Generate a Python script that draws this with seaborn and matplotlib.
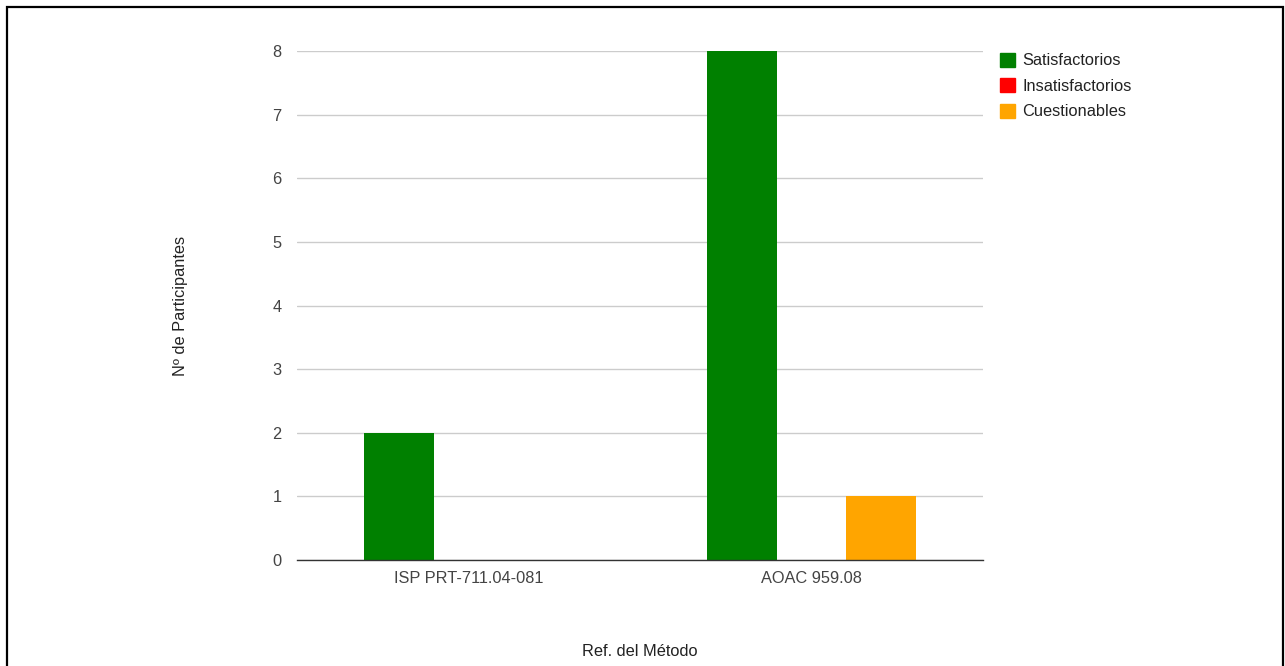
import pandas as pd
import seaborn as sns
import matplotlib.pyplot as plt
from matplotlib.patches import Rectangle, Patch

methods = ["ISP PRT-711.04-081", "AOAC 959.08"]
series = ["Satisfactorios", "Insatisfactorios", "Cuestionables"]
satisfactorios = [2, 8]
insatisfactorios = [0, 0]
cuestionables = [0, 1]
colors = ["#008000", "#ff0000", "#ffa500"]

df = pd.DataFrame({
    "metodo": methods * 3,
    "serie": [s for s in series for _ in methods],
    "n": satisfactorios + insatisfactorios + cuestionables,
})

sns.set_style("white")
plt.rcParams["font.family"] = ["Liberation Sans", "DejaVu Sans"]
fs = 11.8

fig = plt.figure(figsize=(12.85, 6.66), dpi=100)
ax = fig.add_axes([297 / 1285, 1 - 560 / 666, 686 / 1285, 509 / 666])

sns.barplot(data=df, x="metodo", y="n", hue="serie", hue_order=series,
            palette=colors, width=0.61, saturation=1, ax=ax, legend=False,
            linewidth=0)

ax.set_ylim(0, 8)
ax.set_xlim(-0.5, 1.5)
ax.set_yticks(range(0, 9))
ax.grid(axis="y", color="#cccccc", linewidth=1)
ax.set_axisbelow(True)
for s in ["top", "right", "left"]:
    ax.spines[s].set_visible(False)
ax.spines["bottom"].set_color("#333333")
ax.spines["bottom"].set_linewidth(1)
ax.tick_params(axis="both", length=0, labelsize=fs, colors="#444444")
ax.tick_params(axis="y", pad=11)
ax.tick_params(axis="x", pad=8)
ax.set_xlabel("Ref. del Método", fontsize=fs, color="#222222")
ax.set_ylabel("Nº de Participantes", fontsize=fs, color="#222222")
ax.xaxis.set_label_coords(0.5, -(651 - 560) / 509)
ax.xaxis.label.set_va("center")
ax.yaxis.set_label_coords(-(297 - 180) / 686, 0.5)
ax.yaxis.label.set_va("center")

handles = [Patch(facecolor=c, edgecolor=c) for c in colors]
fig.legend(handles, series, loc="upper left", bbox_to_anchor=(993 / 1285, 1 - 46 / 666),
           frameon=False, fontsize=fs, labelcolor="#222222", handlelength=0.95,
           handleheight=0.95, handletextpad=0.45, labelspacing=0.6, borderaxespad=0)

fig.patches.append(Rectangle((7 / 1285, -0.02), 1276 / 1285, 1.02 - 7 / 666,
                             transform=fig.transFigure, fill=False,
                             edgecolor="black", linewidth=1.6))

fig.savefig("out.png", dpi=100)
